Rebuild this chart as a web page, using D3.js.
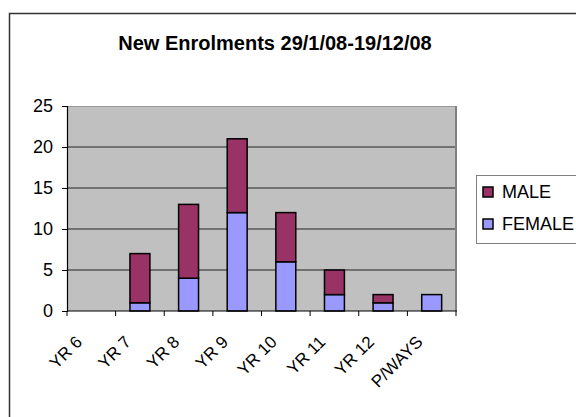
<!DOCTYPE html>
<html>
<head>
<meta charset="utf-8">
<script src="https://cdn.jsdelivr.net/npm/d3@7"></script>
<style>
  body { margin: 0; background: #fff; }
  text { font-family: "Liberation Sans", Arial, sans-serif; }
</style>
</head>
<body>
<div id="chart"></div>
<script>
const categories = ['YR 6', 'YR 7', 'YR 8', 'YR 9', 'YR 10', 'YR 11', 'YR 12', 'P/WAYS']
const female = [0, 1, 4, 12, 6, 2, 1, 2]
const male = [0, 6, 9, 9, 6, 3, 1, 0]
const yTicks = [0, 5, 10, 15, 20, 25]
const seriesNames = ['MALE', 'FEMALE']
const colors = { MALE: '#993366', FEMALE: '#9999FF' }

const width = 576,
      height = 417,
      plotLeft = 67,
      plotRight = 456,
      plotTop = 106,
      plotBottom = 311

const rows = categories.map(function(c, i) {
  return { cat: c, FEMALE: female[i], MALE: male[i] }
})

const svg = d3.select('#chart')
              .append('svg')
              .attr('width', width)
              .attr('height', height)

// chart area border (runs off the right and bottom)
svg.append('rect')
   .attr('x', 9.5).attr('y', 13.5)
   .attr('width', 700).attr('height', 600)
   .attr('fill', '#fff')
   .attr('stroke', '#333').attr('stroke-width', 1.5)

svg.append('text')
   .attr('x', 275).attr('y', 50)
   .attr('text-anchor', 'middle')
   .attr('font-size', 20).attr('font-weight', 'bold')
   .text('New Enrolments 29/1/08-19/12/08')

const xBand = d3.scaleBand().domain(categories).range([plotLeft, plotRight]),
      xBar = d3.scaleBand().domain(categories).range([plotLeft, plotRight])
               .paddingInner(0.59).paddingOuter(0.295),
      yScale = d3.scaleLinear().domain([0, 25]).range([plotBottom, plotTop])

// plot area
svg.append('rect')
   .attr('x', plotLeft).attr('y', plotTop)
   .attr('width', plotRight - plotLeft).attr('height', plotBottom - plotTop)
   .attr('fill', '#C0C0C0')

svg.append('g')
   .selectAll('line')
   .data(yTicks.slice(1, -1))
   .enter()
   .append('line')
   .attr('x1', plotLeft).attr('x2', plotRight)
   .attr('y1', function(d) { return yScale(d) })
   .attr('y2', function(d) { return yScale(d) })
   .attr('stroke', '#222').attr('stroke-width', 1)

svg.append('line')
   .attr('x1', plotLeft).attr('x2', plotRight)
   .attr('y1', plotTop + 0.5).attr('y2', plotTop + 0.5)
   .attr('stroke', '#999').attr('stroke-width', 1)
svg.append('line')
   .attr('x1', plotRight).attr('x2', plotRight)
   .attr('y1', plotTop).attr('y2', plotBottom)
   .attr('stroke', '#808080').attr('stroke-width', 2)

// stacked bars
const stacked = d3.stack().keys(['FEMALE', 'MALE'])(rows)

svg.append('g')
   .selectAll('g')
   .data(stacked)
   .enter()
   .append('g')
   .attr('fill', function(s) { return colors[s.key] })
   .selectAll('rect')
   .data(function(s) { return s.filter(function(d) { return d[1] > d[0] }) })
   .enter()
   .append('rect')
   .attr('x', function(d) { return xBar(d.data.cat) })
   .attr('width', xBar.bandwidth())
   .attr('y', function(d) { return yScale(d[1]) })
   .attr('height', function(d) { return yScale(d[0]) - yScale(d[1]) })
   .attr('stroke', '#000').attr('stroke-width', 1.5)

// y axis
const yAxis = d3.axisLeft(yScale).tickValues(yTicks).tickSize(5).tickPadding(9)
const gy = svg.append('g')
              .attr('transform', 'translate(' + plotLeft + ', 0)')
              .call(yAxis)
gy.select('.domain').attr('stroke', '#000').attr('stroke-width', 1.2)
gy.selectAll('.tick line').attr('stroke', '#000')
gy.selectAll('.tick text')
  .attr('font-size', 18).attr('fill', '#000')
  .style('font-family', '"Liberation Sans", Arial, sans-serif')

// x axis: ticks on category boundaries
svg.append('line')
   .attr('x1', plotLeft).attr('x2', plotRight + 1)
   .attr('y1', plotBottom).attr('y2', plotBottom)
   .attr('stroke', '#000').attr('stroke-width', 1.2)

svg.append('g')
   .selectAll('line')
   .data(categories.concat(['end']))
   .enter()
   .append('line')
   .attr('x1', function(d) { return d === 'end' ? plotRight : xBand(d) })
   .attr('x2', function(d) { return d === 'end' ? plotRight : xBand(d) })
   .attr('y1', plotBottom).attr('y2', plotBottom + 5)
   .attr('stroke', '#000')

svg.append('g')
   .selectAll('text')
   .data(categories)
   .enter()
   .append('text')
   .attr('transform', function(d) {
     const cx = xBand(d) + xBand.bandwidth() / 2 - 8
     return 'translate(' + cx + ', 343) rotate(-45)'
   })
   .attr('text-anchor', 'end')
   .attr('font-size', 17)
   .text(function(d) { return d })

// legend
svg.append('rect')
   .attr('x', 476.5).attr('y', 175.5)
   .attr('width', 200).attr('height', 68)
   .attr('fill', '#fff')
   .attr('stroke', '#808080').attr('stroke-width', 1)

const legend = svg.append('g')
                  .selectAll('g')
                  .data(seriesNames)
                  .enter()
                  .append('g')
                  .attr('transform', function(d, i) { return 'translate(483, ' + (187 + i * 32) + ')' })

legend.append('rect')
      .attr('width', 10).attr('height', 10)
      .attr('fill', function(d) { return colors[d] })
      .attr('stroke', '#000').attr('stroke-width', 1.5)

legend.append('text')
      .attr('x', 19).attr('y', 11)
      .attr('font-size', 18)
      .text(function(d) { return d })
</script>
</body>
</html>
